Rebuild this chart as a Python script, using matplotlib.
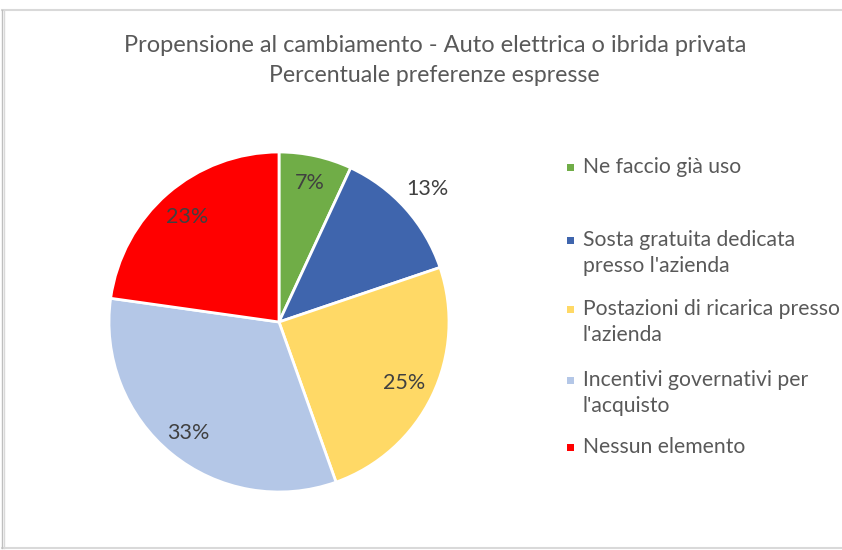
import numpy as np
import matplotlib
matplotlib.use("Agg")
import matplotlib.pyplot as plt
from matplotlib.lines import Line2D
from matplotlib.patches import Rectangle

plt.rcParams['font.family'] = ['Lato', 'DejaVu Sans']

# data
categories = ['Ne faccio già uso',
              "Sosta gratuita dedicata\npresso l'azienda",
              "Postazioni di ricarica presso\nl'azienda",
              "Incentivi governativi per\nl'acquisto",
              'Nessun elemento']
values = [7, 13, 25, 33, 23]
pct_labels = ['7%', '13%', '25%', '33%', '23%']
colors = ['#70AD47', '#3F65AD', '#FFD966', '#B4C7E7', '#FF0000']
title_lines = ['Propensione al cambiamento - Auto elettrica o ibrida privata',
               'Percentuale preferenze espresse']

W, H = 842, 550
fig = plt.figure(figsize=(W / 100, H / 100), dpi=100)

# chart border (light gray)
fig.add_artist(Line2D([2 / W, 1], [1 - 10 / H, 1 - 10 / H], color='#D9D9D9', lw=1.5))
fig.add_artist(Line2D([2 / W, 1], [2 / H, 2 / H], color='#D9D9D9', lw=1.5))
fig.add_artist(Line2D([1.5 / W, 1.5 / W], [2 / H, 1 - 10 / H], color='#BFBFBF', lw=1.0))
fig.add_artist(Line2D([3.5 / W, 3.5 / W], [2 / H, 1 - 10 / H], color='#D9D9D9', lw=1.0))

# title
fig.text(435 / W, 1 - 45 / H, title_lines[0], ha='center', va='center',
         fontsize=17, color='#595959')
fig.text(434 / W, 1 - 75 / H, title_lines[1], ha='center', va='center',
         fontsize=16.6, color='#595959')

# pie
cx, cy, r = 279, 322, 170
ax = fig.add_axes([(cx - r) / W, (H - cy - r) / H, 2 * r / W, 2 * r / H])
wedges, _ = ax.pie(values, colors=colors, startangle=90, counterclock=False,
                   radius=1.0, wedgeprops=dict(edgecolor='white', linewidth=2))
ax.set_xlim(-1, 1)
ax.set_ylim(-1, 1)
ax.set_aspect('equal')
ax.axis('off')

label_dist = [0.84, 1.17, 0.82, 0.84, 0.82]
for w, lab, d in zip(wedges, pct_labels, label_dist):
    ang = np.deg2rad((w.theta1 + w.theta2) / 2)
    ax.text(d * np.cos(ang), d * np.sin(ang), lab, ha='center', va='center',
            fontsize=15.5, color='#404040')

# legend
leg_y = [167, 240, 309, 380, 447]
line_gap = 26
for lab, col, y in zip(categories, colors, leg_y):
    fig.add_artist(Rectangle((567 / W, 1 - (y + 3.5) / H), 7 / W, 7 / H,
                             facecolor=col, edgecolor='none'))
    for i, line in enumerate(lab.split('\n')):
        fig.text(583 / W, 1 - (y + i * line_gap) / H, line, ha='left',
                 va='center', fontsize=15.2, color='#595959')

fig.savefig('out.png', dpi=100)
